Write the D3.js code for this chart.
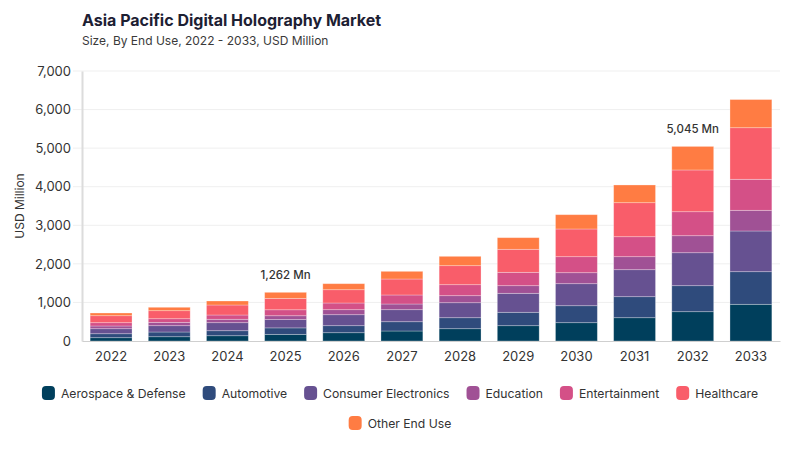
<!DOCTYPE html>
<html>
<head>
<meta charset="utf-8">
<title>Asia Pacific Digital Holography Market</title>
<script src="https://cdnjs.cloudflare.com/ajax/libs/d3/7.8.5/d3.min.js"></script>
<style>
  body { margin: 0; background: #fff; font-family: Inter, "Noto Sans", sans-serif; }
  svg text { font-family: Inter, "Noto Sans", sans-serif; }
</style>
</head>
<body>
<div id="chart"></div>
<script>
// chart data
const years = ["2022","2023","2024","2025","2026","2027","2028","2029","2030","2031","2032","2033"];
const segments = ["Aerospace & Defense","Automotive","Consumer Electronics","Education","Entertainment","Healthcare","Other End Use"];

const aerospace     = [86, 111, 137, 172, 215, 259, 319, 397, 475, 604, 760, 951];
const automotive    = [103, 122, 130, 168, 182, 241, 285, 347, 440, 545, 674, 846];
const consumerElec  = [130, 164, 208, 215, 285, 312, 389, 492, 571, 700, 855, 1055];
const education     = [70, 86, 88, 100, 130, 147, 182, 198, 285, 337, 441, 536];
const entertainment = [86, 95, 111, 155, 173, 234, 285, 346, 415, 518, 622, 804];
const healthcare    = [181, 208, 259, 295, 345, 414, 493, 597, 718, 882, 1082, 1338];
const otherUse      = [70, 88, 104, 157, 156, 199, 242, 302, 371, 459, 611, 730];

const yTicks = [0, 1000, 2000, 3000, 4000, 5000, 6000, 7000];
const annotations = [{ year: "2025", label: "1,262 Mn" }, { year: "2032", label: "5,045 Mn" }];

const colors = ["#003f5c", "#2f4b7c", "#665191", "#a05195", "#d45087", "#f95d6a", "#ff7c43"];

const W = 800, H = 450;
const margin = { top: 71, right: 20, bottom: 109, left: 82 };
const width = W - margin.left - margin.right, height = H - margin.top - margin.bottom;

const series = [aerospace, automotive, consumerElec, education, entertainment, healthcare, otherUse];
const table = years.map(function(y, i) {
    const row = { year: y };
    segments.forEach(function(s, k) { row[s] = series[k][i]; });
    return row;
});
const stacked = d3.stack().keys(segments)(table);

const svg = d3.select("#chart").append("svg").attr("width", W).attr("height", H);

svg.append("text").attr("x", 82).attr("y", 26)
   .text("Asia Pacific Digital Holography Market")
   .style("font-size", "16px").style("font-weight", "700").attr("fill", "#1d2033");
svg.append("text").attr("x", 82).attr("y", 45)
   .text("Size, By End Use, 2022 - 2033, USD Million")
   .style("font-size", "12px").attr("fill", "#3a3a3a");

const g = svg.append("g").attr("transform", "translate(" + margin.left + "," + margin.top + ")");

const x = d3.scaleBand().domain(years).range([0, width]).paddingInner(0.28).paddingOuter(0.14);
const y = d3.scaleLinear().domain([0, 7000]).range([height, 0]);

// gridlines
g.append("g").selectAll("line").data(yTicks.slice(1)).enter().append("line")
 .attr("x1", -9).attr("x2", width)
 .attr("y1", d => y(d)).attr("y2", d => y(d))
 .attr("stroke", "#efefef").attr("stroke-width", 1);

// y axis
const yAxis = g.append("g")
 .call(d3.axisLeft(y).tickValues(yTicks).tickFormat(d3.format(",")).tickSize(0).tickPadding(11));
yAxis.select(".domain").attr("stroke", "#dcdcdc").attr("stroke-width", 2);
yAxis.selectAll("text").style("font-size", "13px").attr("fill", "#333");

svg.append("text")
   .attr("transform", "translate(24," + (margin.top + height / 2) + ") rotate(-90)")
   .attr("text-anchor", "middle")
   .text("USD Million").style("font-size", "12px").attr("fill", "#333");

// bars
const layers = g.selectAll(".layer").data(stacked).enter().append("g")
 .attr("fill", (d, i) => colors[i]);

layers.selectAll("rect").data(d => d).enter().append("rect")
 .attr("x", d => x(d.data.year))
 .attr("y", d => y(d[1]))
 .attr("width", x.bandwidth())
 .attr("height", d => y(d[0]) - y(d[1]))
 .attr("stroke", "#ffffff").attr("stroke-opacity", 0.35).attr("stroke-width", 0.8);

// x axis
const xAxis = g.append("g").attr("transform", "translate(0," + height + ")")
 .call(d3.axisBottom(x).tickSize(0).tickPadding(11));
xAxis.select(".domain").attr("stroke", "#cfcfcf").attr("stroke-width", 1.2);
xAxis.selectAll("text").style("font-size", "13px").attr("fill", "#333");

// total labels
const totals = table.map(r => d3.sum(segments, s => r[s]));
g.selectAll(".ann").data(annotations).enter().append("text")
 .attr("x", d => x(d.year) + x.bandwidth() / 2)
 .attr("y", d => y(totals[years.indexOf(d.year)]) - 13)
 .attr("text-anchor", "middle")
 .text(d => d.label)
 .style("font-size", "11.5px").style("font-weight", "500").attr("fill", "#333");

// legend
const legendRows = [segments.slice(0, 6), segments.slice(6)];
legendRows.forEach(function(row, r) {
    const lg = svg.append("g");
    let cx = 0;
    row.forEach(function(name) {
        const k = segments.indexOf(name);
        const item = lg.append("g").attr("transform", "translate(" + cx + ",0)");
        item.append("rect").attr("width", 13).attr("height", 14).attr("rx", 4)
            .attr("y", -7).attr("fill", colors[k]);
        const t = item.append("text").attr("x", 19).attr("y", 4.5)
            .text(name).style("font-size", "12.2px").attr("fill", "#333");
        cx += 19 + t.node().getComputedTextLength() + 17;
    });
    cx -= 17;
    lg.attr("transform", "translate(" + ((W - cx) / 2) + "," + (393 + r * 30) + ")");
});
</script>
</body>
</html>
